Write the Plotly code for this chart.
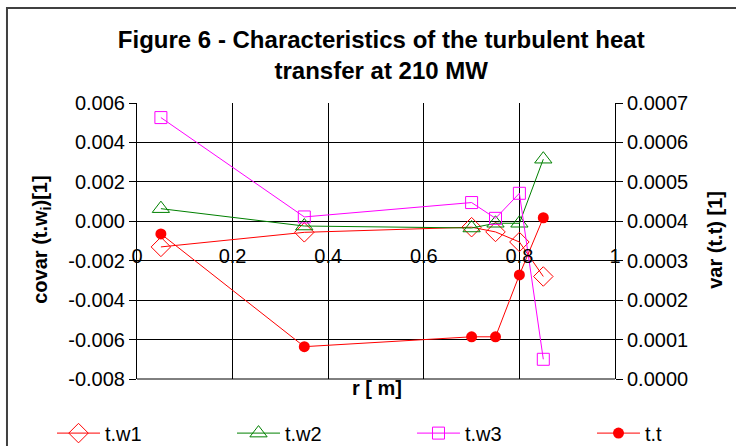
import plotly.graph_objects as go

r_m = [0.05, 0.35, 0.70, 0.75, 0.80, 0.85]
tw1 = [-0.0013, -0.00056, -0.0003, -0.00054, -0.00105, -0.0028]
tw2 = [0.00064, -0.00024, -0.00034, -0.0001, -0.0001, 0.00315]
tw3 = [0.00526, 0.00022, 0.00095, 0.00015, 0.00142, -0.0070]
tt = [0.000368, 0.000082, 0.000107, 0.000107, 0.000264, 0.000409]

left_ticks = [-0.008, -0.006, -0.004, -0.002, 0.0, 0.002, 0.004, 0.006]
left_labels = ["-0.008", "-0.006", "-0.004", "-0.002", "0.000", "0.002", "0.004", "0.006"]
right_ticks = [0.0, 0.0001, 0.0002, 0.0003, 0.0004, 0.0005, 0.0006, 0.0007]
right_labels = ["0.0000", "0.0001", "0.0002", "0.0003", "0.0004", "0.0005", "0.0006", "0.0007"]
x_ticks = [0, 0.2, 0.4, 0.6, 0.8, 1]
x_labels = ["0", "0.2", "0.4", "0.6", "0.8", "1"]

FONT = "Liberation Sans, Arial, sans-serif"

fig = go.Figure()
fig.add_trace(go.Scatter(x=r_m, y=tw1, name="t.w1", mode="lines+markers", legend="legend",
                         line=dict(color="#FF0000", width=1),
                         marker=dict(symbol="diamond-open", size=15, color="#FF0000", line=dict(width=1))))
fig.add_trace(go.Scatter(x=r_m, y=tw2, name="t.w2", mode="lines+markers", legend="legend",
                         line=dict(color="#008000", width=1),
                         marker=dict(symbol="triangle-up-open", size=15, color="#008000", line=dict(width=1))))
fig.add_trace(go.Scatter(x=r_m, y=tw3, name="t.w3", mode="lines+markers", legend="legend2",
                         line=dict(color="#FF00FF", width=1),
                         marker=dict(symbol="square-open", size=12, color="#FF00FF", line=dict(width=1))))
fig.add_trace(go.Scatter(x=r_m, y=tt, name="t.t", mode="lines+markers", yaxis="y2", legend="legend2",
                         line=dict(color="#FF0000", width=1),
                         marker=dict(symbol="circle", size=11, color="#FF0000")))

leg_common = dict(orientation="h", xanchor="left", y=-0.196, yanchor="middle",
                  itemwidth=43, entrywidth=122, entrywidthmode="pixels",
                  font=dict(size=20, family=FONT), bgcolor="rgba(0,0,0,0)")

fig.update_layout(
    width=736, height=446,
    margin=dict(l=137, r=121, t=103, b=67, autoexpand=False),
    paper_bgcolor="white", plot_bgcolor="white",
    font=dict(family=FONT, size=20, color="black"),
    title=dict(text="<b>Figure 6 - Characteristics of the turbulent heat<br>transfer at 210 MW</b>",
               x=0.518, xanchor="center", y=0.892, yanchor="middle",
               font=dict(size=24, family=FONT, color="black")),
    xaxis=dict(range=[0, 1], tickvals=x_ticks, ticktext=x_labels,
               anchor="free", position=0.5714,
               showgrid=True, gridcolor="black", gridwidth=1,
               showline=False,
               ticks="outside", ticklen=17, tickcolor="rgba(0,0,0,0)",
               zeroline=False, tickfont=dict(size=20)),
    yaxis=dict(range=[-0.008, 0.006], tickvals=left_ticks, ticktext=left_labels,
               showgrid=True, gridcolor="black", gridwidth=1,
               showline=True, linecolor="black", linewidth=1, mirror=False,
               ticks="outside", ticklen=7, tickcolor="black",
               zeroline=False, tickfont=dict(size=20)),
    yaxis2=dict(range=[0, 0.0007], tickvals=right_ticks, ticktext=right_labels,
                overlaying="y", side="right", showgrid=False,
                showline=True, linecolor="black", linewidth=1,
                ticks="outside", ticklen=7, tickcolor="black",
                zeroline=False, tickfont=dict(size=20)),
    legend=dict(x=-0.1778, **leg_common),
    legend2=dict(x=0.5753, **leg_common),
    shapes=[dict(type="rect", xref="paper", yref="paper",
                 x0=-0.272, x1=1.27, y0=-0.27, y1=1.344,
                 line=dict(color="#404040", width=2), fillcolor="rgba(0,0,0,0)", layer="below"),
            dict(type="line", xref="paper", yref="paper", x0=0, x1=1, y0=0, y1=0,
                 line=dict(color="black", width=1))],
    annotations=[
        dict(text="<b>covar (t.w<sub>i</sub>)[1]</b>", xref="paper", yref="paper",
             x=-0.199, y=0.504, textangle=-90, showarrow=False,
             xanchor="center", yanchor="middle", font=dict(size=20, family=FONT)),
        dict(text="<b>var (t.t) [1]</b>", xref="paper", yref="paper",
             x=1.209, y=0.504, textangle=-90, showarrow=False,
             xanchor="center", yanchor="middle", font=dict(size=20, family=FONT)),
        dict(text="<b>r [ m]</b>", xref="paper", yref="paper",
             x=0.502, y=-0.033, showarrow=False,
             xanchor="center", yanchor="middle", font=dict(size=20, family=FONT)),
    ],
)

fig.write_html("out.html")
